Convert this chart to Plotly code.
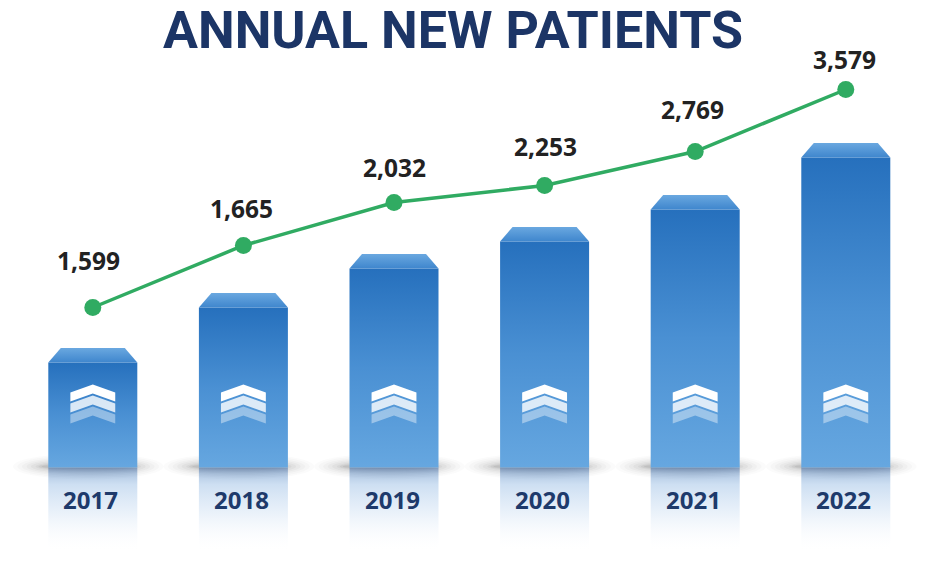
import plotly.graph_objects as go

# ---------------- data ----------------
years = ["2017", "2018", "2019", "2020", "2021", "2022"]
new_patients = [1599, 1665, 2032, 2253, 2769, 3579]
# The graphic is illustrative (not drawn to scale): relative heights
bar_level = [105, 160, 199, 226, 258, 310]
line_level = [160, 222, 265, 282, 316, 378]
title_text = "ANNUAL NEW PATIENTS"

# ---------------- styling ----------------
label_yshift = [47, 37, 35, 39, 42, 30]
label_xshift = [-4, -2, 0, 1, -3, -1]
BAR_HALF = 0.2955
CAP_INSET = 0.083
CAP_H = 14.5
REFL_H = 85
NAVY = "#1c3566"
GREEN = "#30ab62"

fig = go.Figure()
xs = list(range(len(years)))

# reflections below bars
for i, h in zip(xs, bar_level):
    fig.add_trace(go.Scatter(
        x=[i - BAR_HALF, i + BAR_HALF, i + BAR_HALF, i - BAR_HALF, i - BAR_HALF],
        y=[0, 0, -REFL_H, -REFL_H, 0],
        fill="toself", mode="lines", line=dict(width=0), hoverinfo="skip",
        fillgradient=dict(type="vertical", start=-REFL_H, stop=0,
                          colorscale=[[0, "rgba(255,255,255,0)"],
                                      [0.45, "rgba(130,175,225,0.16)"],
                                      [0.8, "rgba(100,155,215,0.32)"],
                                      [0.93, "rgba(80,130,190,0.45)"],
                                      [1, "rgba(70,110,165,0.6)"]]),
    ))

# bar faces
for i, h in zip(xs, bar_level):
    fig.add_trace(go.Scatter(
        x=[i - BAR_HALF, i + BAR_HALF, i + BAR_HALF, i - BAR_HALF, i - BAR_HALF],
        y=[0, 0, h, h, 0],
        fill="toself", mode="lines", line=dict(width=0), hoverinfo="skip",
        fillgradient=dict(type="vertical", start=0, stop=h,
                          colorscale=[[0, "#66a7e0"], [0.5, "#4a90d3"], [1, "#2670bd"]]),
    ))
    # top cap (trapezoid)
    fig.add_trace(go.Scatter(
        x=[i - BAR_HALF, i + BAR_HALF, i + BAR_HALF - CAP_INSET, i - BAR_HALF + CAP_INSET, i - BAR_HALF],
        y=[h, h, h + CAP_H, h + CAP_H, h],
        fill="toself", mode="lines", line=dict(width=0), hoverinfo="skip",
        fillgradient=dict(type="vertical", start=h, stop=h + CAP_H,
                          colorscale=[[0, "#3f86cd"], [1, "#6aa8e0"]]),
    ))

# chevrons on bars
CH_W, CH_R, CH_T = 0.149, 8, 9
for top, alpha in [(83, 1.0), (72, 0.8), (61, 0.4)]:
    cx_list, cy_list = [], []
    for i in xs:
        cx_list += [i - CH_W, i, i + CH_W, i + CH_W, i, i - CH_W, i - CH_W, None]
        cy_list += [top - CH_R, top, top - CH_R, top - CH_R - CH_T, top - CH_T,
                    top - CH_R - CH_T, top - CH_R, None]
    fig.add_trace(go.Scatter(
        x=cx_list, y=cy_list, fill="toself", mode="lines", line=dict(width=0),
        fillcolor=f"rgba(255,255,255,{alpha})", hoverinfo="skip",
    ))

# green line
fig.add_trace(go.Scatter(
    x=xs, y=line_level, mode="lines+markers",
    line=dict(color=GREEN, width=3.5), marker=dict(color=GREEN, size=17),
    hoverinfo="skip",
))

# soft shadows at bar bases
shapes = []
layers = [(0.50, 13, 0.025), (0.47, 11.5, 0.03), (0.44, 10, 0.035), (0.41, 8.5, 0.04),
          (0.38, 7, 0.05), (0.35, 5.5, 0.06), (0.33, 4, 0.08), (0.31, 2.5, 0.1)]
for i in xs:
    for hw, hh, op in layers:
        shapes.append(dict(type="circle", xref="x", yref="y", layer="below",
                           x0=i - hw - 0.03, x1=i + hw - 0.03, y0=-hh + 1, y1=hh + 1,
                           fillcolor="#505050", opacity=op, line=dict(width=0)))

annotations = []
for i, (v, ys, xsft) in enumerate(zip(new_patients, label_yshift, label_xshift)):
    annotations.append(dict(x=i, y=line_level[i], xref="x", yref="y", text=f"{v:,}",
                            showarrow=False, yshift=ys, xshift=xsft, yanchor="middle",
                            font=dict(family="Open Sans", size=24.5, color="#222222", weight="bold")))
for i, yr in enumerate(years):
    annotations.append(dict(x=i, y=-32, xref="x", yref="y", text=yr, showarrow=False,
                            yanchor="middle", xshift=-2,
                            font=dict(family="Open Sans", size=24, color="#1e3a6b", weight="bold")))
annotations.append(dict(x=453 / 939, y=1 - 31 / 572, xref="paper", yref="paper", text=title_text,
                        showarrow=False, yanchor="middle", xanchor="center",
                        font=dict(family="Roboto", size=52, color=NAVY, weight="bold")))

fig.update_layout(
    width=939, height=572, autosize=False,
    margin=dict(l=0, r=0, t=0, b=0),
    paper_bgcolor="white", plot_bgcolor="white",
    showlegend=False,
    xaxis=dict(range=[-0.6162, 5.6189], visible=False, fixedrange=True),
    yaxis=dict(range=[-104.5, 467.5], visible=False, fixedrange=True),
    shapes=shapes, annotations=annotations,
)

fig.write_html("out.html", config={"displayModeBar": False, "staticPlot": True},
               post_script="document.body.style.margin='0';")
